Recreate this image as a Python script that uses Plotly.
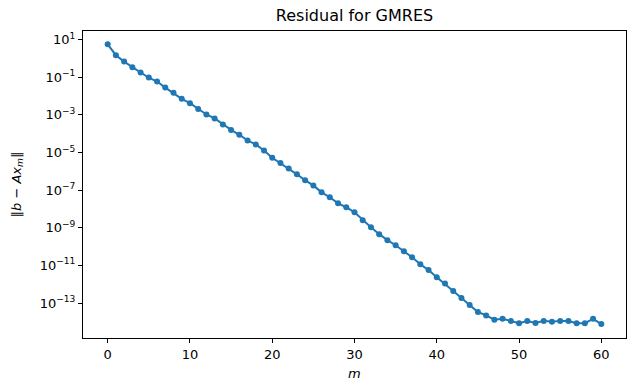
import plotly.graph_objects as go

# iteration index
m_vals = list(range(61))
# residual norms (log10 values)
log_residual = [
    0.75, 0.17, -0.17, -0.47, -0.75, -1.02, -1.23, -1.55, -1.83, -2.15,
    -2.38, -2.69, -2.98, -3.19, -3.51, -3.80, -4.06, -4.36, -4.57, -4.89,
    -5.28, -5.56, -5.85, -6.16, -6.48, -6.75, -7.12, -7.38, -7.70, -7.91,
    -8.18, -8.60, -8.97, -9.34, -9.66, -9.93, -10.25, -10.57, -10.94, -11.25,
    -11.63, -11.97, -12.36, -12.73, -13.10, -13.48, -13.66, -13.89, -13.84, -13.96,
    -14.07, -13.96, -14.06, -13.95, -14.00, -13.95, -13.96, -14.07, -14.07, -13.84,
    -14.12,
]
residual = [10 ** v for v in log_residual]

ytick_exps = [1, -1, -3, -5, -7, -9, -11, -13]
ytick_vals = [10.0 ** e for e in ytick_exps]
ytick_text = ["10<sup>%s</sup>" % (str(e).replace("-", "\u2212")) for e in ytick_exps]
xtick_vals = [0, 10, 20, 30, 40, 50, 60]

W, H = 635, 391
L, R, T, B = 83, 9, 31, 53

fig = go.Figure()
fig.add_trace(go.Scatter(
    x=m_vals, y=residual, mode="lines+markers",
    line=dict(color="#1f77b4", width=2),
    marker=dict(color="#1f77b4", size=6),
    showlegend=False,
))

font = "DejaVu Sans"
fig.update_layout(
    width=W, height=H,
    paper_bgcolor="white", plot_bgcolor="white",
    margin=dict(l=L, r=R, t=T, b=B, autoexpand=False),
    font=dict(family=font, size=13, color="black"),
    hovermode=False,
    title=dict(text="Residual for GMRES", x=0.5, xref="paper", xanchor="center",
               y=1 - 15.5 / H, yref="container", yanchor="middle",
               font=dict(family=font, size=16, color="black")),
)
fig.update_xaxes(
    range=[-3, 63], tickvals=xtick_vals, ticks="outside", ticklen=4, tickwidth=1,
    tickcolor="black", showline=True, linecolor="black", linewidth=1, mirror=True,
    showgrid=False, zeroline=False, automargin=False,
)
fig.update_yaxes(
    type="log", range=[-14.86, 1.456], tickvals=ytick_vals, ticktext=ytick_text,
    ticks="outside", ticklen=4, tickwidth=1, tickcolor="black",
    showline=True, linecolor="black", linewidth=1, mirror=True,
    showgrid=False, zeroline=False, automargin=False,
)
fig.add_annotation(
    text="<i>m</i>", xref="paper", yref="paper", x=0.5,
    y=-(373 - (H - B)) / (H - T - B), xanchor="center", yanchor="middle",
    showarrow=False, font=dict(family=font, size=13, color="black"),
)
fig.add_annotation(
    text="\u2016<i>b</i> \u2212 <i>Ax</i><sub><i>m</i></sub>\u2016",
    xref="paper", yref="paper", x=-(L - 17) / (W - L - R), y=0.5,
    xanchor="center", yanchor="middle", textangle=-90,
    showarrow=False, font=dict(family=font, size=13, color="black"),
)

fig.write_html(
    "out.html",
    config={"displayModeBar": False, "staticPlot": True},
    post_script="document.body.style.margin='0';document.body.style.overflow='hidden';",
)
